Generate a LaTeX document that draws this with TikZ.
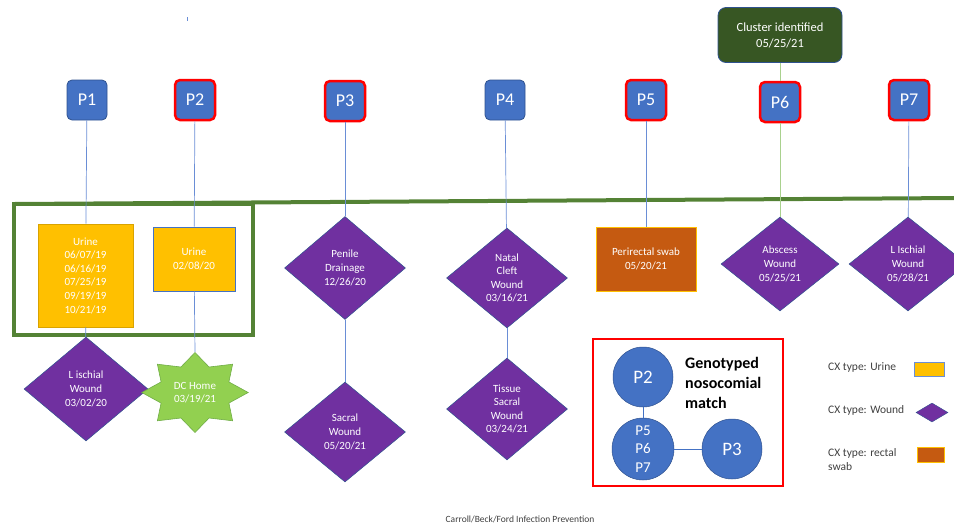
\documentclass[tikz,border=0pt]{standalone}
\usepackage{fontspec}
\setmainfont{Carlito}
\usetikzlibrary{shapes.geometric}

\definecolor{pblue}{HTML}{4472C4}
\definecolor{pedge}{HTML}{2F528F}
\definecolor{stemblue}{HTML}{6A8ED6}
\definecolor{stemgreen}{HTML}{A9D18E}
\definecolor{uyellow}{HTML}{FFC000}
\definecolor{uedge}{HTML}{D9A300}
\definecolor{wpurple}{HTML}{7030A0}
\definecolor{swaborange}{HTML}{C55A11}
\definecolor{tlgreen}{HTML}{548235}
\definecolor{clustergreen}{HTML}{375623}
\definecolor{stargreen}{HTML}{92D050}
\definecolor{staredge}{HTML}{70AD47}
\definecolor{legendgray}{HTML}{404040}

\tikzset{
  pbox/.style={rectangle, rounded corners=5pt, fill=pblue, draw=pedge, line width=0.8pt,
    minimum width=40pt, minimum height=40pt, inner sep=0pt, text=white,
    font=\fontsize{18}{20}\selectfont},
  pboxred/.style={pbox, draw=red, line width=2.5pt},
  smalltxt/.style={text=white, align=center, font=\fontsize{11}{13.6}\selectfont},
  urinebox/.style={rectangle, fill=uyellow, draw=uedge, line width=0.6pt, inner sep=0pt, smalltxt},
  woundbox/.style={diamond, fill=wpurple, draw=pedge, line width=0.5pt, inner sep=0pt,
    minimum width=121pt, minimum height=103pt, smalltxt},
  swabbox/.style={rectangle, fill=swaborange, draw=uyellow, line width=0.8pt, inner sep=0pt, smalltxt},
  dcstar/.style={star, star points=8, star point ratio=1.45, fill=stargreen, draw=staredge,
    line width=0.6pt, minimum size=80pt, inner sep=0pt},
  matchcirc/.style={circle, fill=pblue, draw=pedge, line width=0.5pt, inner sep=0pt, text=white, align=center},
  stem/.style={draw=stemblue, line width=0.7pt},
  legendtxt/.style={text=legendgray, align=left, anchor=west, inner sep=0pt,
    font=\fontsize{11.5}{14}\selectfont}
}

\begin{document}
\begin{tikzpicture}[x=1pt,y=-1pt]
\useasboundingbox (0,0) rectangle (954,523);

% timeline and first group frame
\draw[tlgreen, line width=4pt] (14,204) rectangle (253,335);
\coordinate (tlstart) at (14,204);
\coordinate (tlend) at (960,198);
\draw[tlgreen, line width=4pt] (tlstart) -- (tlend);

% small tick
\draw[stemblue, line width=0.6pt] (187,17) -- (187,21);

% patients
\node[pbox] (p1) at (87,100) {P1};
\node[pboxred] (p2) at (195,100) {P2};
\node[pboxred] (p3) at (345,101) {P3};
\node[pbox] (p4) at (505,100) {P4};
\node[pboxred] (p5) at (646,100) {P5};
\node[pboxred] (p6) at (780,102) {P6};
\node[pboxred] (p7) at (909,100) {P7};

\node[rectangle, rounded corners=8pt, fill=clustergreen, draw=pedge, line width=0.8pt,
  minimum width=124pt, minimum height=55pt, text=white, align=center,
  font=\fontsize{12.5}{16}\selectfont] (cluster) at (780,35) {Cluster identified\\05/25/21};

% P1
\node[urinebox, minimum width=95pt, minimum height=103pt] (p1urine) at (85.5,275.5)
  {Urine\\06/07/19\\06/16/19\\07/25/19\\09/19/19\\10/21/19};
\node[woundbox, minimum width=124pt, minimum height=104pt] (p1wound) at (86,389)
  {L ischial\\Wound\\03/02/20};

% P2
\node[urinebox, draw=pblue, minimum width=82pt, minimum height=64pt] (p2urine) at (194,259)
  {Urine\\02/08/20};
\node[dcstar, xscale=1.33, transform shape] (p2star) at (195,392.5) {};
\node[smalltxt] (p2startxt) at (p2star.center) {DC Home\\03/19/21};

% P3
\node[woundbox] (p3drain) at (345,268) {Penile\\Drainage\\12/26/20};
\node[woundbox, minimum height=100pt] (p3sacral) at (345,432) {Sacral\\Wound\\05/20/21};

% P4
\node[woundbox, minimum height=100pt] (p4natal) at (507,278) {Natal\\Cleft\\Wound\\03/16/21};
\node[woundbox, minimum height=102pt] (p4tissue) at (507,409) {Tissue\\Sacral\\Wound\\03/24/21};

% P5
\node[swabbox, minimum width=100pt, minimum height=64pt] (p5swab) at (646,259)
  {Perirectal swab\\05/20/21};

% P6
\node[woundbox, minimum width=118pt, minimum height=94pt] (p6abscess) at (780,264)
  {Abscess\\Wound\\05/25/21};

% P7
\node[woundbox, minimum width=118pt, minimum height=94pt] (p7wound) at (908,264)
  {L Ischial\\Wound\\05/28/21};

% stems
\draw[stem] (p1) -- (p1urine);
\draw[stem] (p1urine) -- (p1wound);
\draw[stem] (p2) -- (p2urine);
\draw[stem] (p2urine) -- (p2star.north);
\draw[stem] (p3) -- (p3drain);
\draw[stem] (p3drain) -- (p3sacral);
\draw[stem] (p4) -- (p4natal);
\draw[stem] (p4natal) -- (p4tissue);
\draw[stem] (p5) -- (p5swab);
\draw[stem, stemgreen] (cluster) -- (p6);
\draw[stem, stemgreen] (p6) -- (p6abscess);
\draw[stem] (p7) -- (p7wound);

% genotype match
\node[draw=red, line width=2.5pt, minimum width=190pt, minimum height=147pt] (matchframe) at (688,412.5) {};
\node[matchcirc, minimum size=60pt, font=\fontsize{19}{21}\selectfont] (m2) at (643,377) {P2};
\node[matchcirc, minimum size=62pt, font=\fontsize{15}{18.5}\selectfont] (m567) at (643,449) {P5\\P6\\P7};
\node[matchcirc, minimum size=60pt, font=\fontsize{19}{21}\selectfont] (m3) at (732,449) {P3};
\draw[stem, pblue] (m2) -- (m567);
\draw[stem, pblue] (m567) -- (m3);
\node[align=left, anchor=west, inner sep=0pt, font=\bfseries\fontsize{16}{20}\selectfont]
  (matchlbl) at (685,383) {Genotyped\\nosocomial\\match};

% legend
\node[legendtxt] (leg1) at (828,367) {CX type: Urine};
\node[rectangle, fill=uyellow, draw=stemblue, line width=0.6pt, minimum width=30pt, minimum height=14pt,
  inner sep=0pt] (leg1box) at (929,369) {};
\node[legendtxt] (leg2) at (828,410) {CX type: Wound};
\node[diamond, fill=wpurple, draw=pedge, line width=0.4pt, minimum width=32pt, minimum height=19pt,
  inner sep=0pt] (leg2box) at (932,412.5) {};
\node[legendtxt] (leg3) at (828,460) {CX type: rectal\\swab};
\node[rectangle, fill=swaborange, draw=uyellow, line width=0.6pt, minimum width=27pt, minimum height=15pt,
  inner sep=0pt] (leg3box) at (930.5,454.5) {};

% footer
\node[text=legendgray, font=\fontsize{9.5}{11}\selectfont] (footer) at (520,519)
  {Carroll/Beck/Ford Infection Prevention};
\end{tikzpicture}
\end{document}
